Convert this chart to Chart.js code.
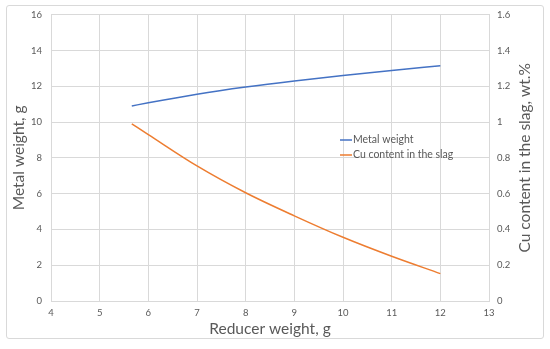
<!DOCTYPE html>
<html>
<head>
<meta charset="utf-8">
<script src="https://cdn.jsdelivr.net/npm/chart.js@4"></script>
<style>
  html, body { margin: 0; padding: 0; background: #fff; }
  #wrap { position: relative; width: 550px; height: 349px; }
  #frame { position: absolute; left: 6px; top: 5px; width: 536px; height: 332px; border: 1px solid #d9d9d9; border-radius: 3px; }
  #chart { position: absolute; left: 0; top: 0; }
</style>
</head>
<body>
<div id="wrap">
  <div id="frame"></div>
  <canvas id="chart" width="550" height="349"></canvas>
</div>
<script>
  // Reducer weight (g) sampled along the curves
  const reducerWeight = [5.66, 6, 7, 8, 9, 10, 11, 12];
  const metalWeight = [10.9, 11.08, 11.56, 11.96, 12.3, 12.6, 12.88, 13.15];
  const cuContent = [0.99, 0.93, 0.755, 0.605, 0.476, 0.356, 0.25, 0.153];

  const seriesNames = ['Metal weight', 'Cu content in the slag'];
  const seriesColors = ['#4472C4', '#ED7D31'];

  const xTitle = 'Reducer weight, g';
  const yTitle = 'Metal weight, g';
  const y1Title = 'Cu content in the slag, wt.%';

  const textColor = '#595959';
  const gridColor = '#d9d9d9';
  const fontFamily = 'Lato, "Open Sans", sans-serif';

  function toPoints(xs, ys) {
    return xs.map((x, i) => ({ x: x, y: ys[i] }));
  }

  // legend drawn inside the plot area, like the Excel original
  const innerLegend = {
    id: 'innerLegend',
    afterDraw(chart) {
      const c = chart.ctx;
      const x0 = 340, y0 = 140, rowH = 15;
      c.save();
      c.font = '10.5px ' + fontFamily;
      c.textBaseline = 'middle';
      chart.data.datasets.forEach((ds, i) => {
        const y = y0 + i * rowH;
        c.strokeStyle = ds.borderColor;
        c.lineWidth = 1.5;
        c.beginPath();
        c.moveTo(x0, y);
        c.lineTo(x0 + 12, y);
        c.stroke();
        c.fillStyle = textColor;
        c.fillText(ds.label, x0 + 13, y);
      });
      c.restore();
    }
  };

  // right axis title reads bottom-to-top in the reference
  const rightTitle = {
    id: 'rightTitle',
    afterDraw(chart) {
      const c = chart.ctx;
      const area = chart.chartArea;
      c.save();
      c.translate(525, (area.top + area.bottom) / 2);
      c.rotate(-Math.PI / 2);
      c.font = '15.5px ' + fontFamily;
      c.fillStyle = textColor;
      c.textAlign = 'center';
      c.textBaseline = 'middle';
      c.fillText(y1Title, 0, 0);
      c.restore();
    }
  };

  const ctx = document.getElementById('chart').getContext('2d');

  new Chart(ctx, {
    type: 'line',
    data: {
      datasets: [
        {
          label: seriesNames[0],
          data: toPoints(reducerWeight, metalWeight),
          borderColor: seriesColors[0],
          backgroundColor: seriesColors[0],
          borderWidth: 1.5,
          pointRadius: 0,
          tension: 0.4,
          cubicInterpolationMode: 'monotone',
          yAxisID: 'y'
        },
        {
          label: seriesNames[1],
          data: toPoints(reducerWeight, cuContent),
          borderColor: seriesColors[1],
          backgroundColor: seriesColors[1],
          borderWidth: 1.5,
          pointRadius: 0,
          tension: 0.4,
          cubicInterpolationMode: 'monotone',
          yAxisID: 'y1'
        }
      ]
    },
    options: {
      responsive: false,
      animation: false,
      layout: { padding: { top: 12, left: 0, right: 0, bottom: 0 } },
      plugins: {
        legend: { display: false },
        tooltip: { enabled: false }
      },
      scales: {
        x: {
          type: 'linear',
          min: 4,
          max: 13,
          ticks: { stepSize: 1, color: textColor, font: { family: fontFamily, size: 9.5 }, padding: 6 },
          grid: { color: gridColor, drawTicks: false },
          border: { color: gridColor },
          title: { display: true, text: xTitle, color: textColor, font: { family: fontFamily, size: 15.5 }, padding: { top: 0, bottom: 11 } },
          afterFit(scale) { scale.height = 48; }
        },
        y: {
          position: 'left',
          min: 0,
          max: 16,
          ticks: { stepSize: 2, color: textColor, font: { family: fontFamily, size: 9.5 }, padding: 9 },
          grid: { color: gridColor, drawTicks: false },
          border: { color: gridColor },
          title: { display: true, text: yTitle, color: textColor, font: { family: fontFamily, size: 15.5 }, padding: { top: 10, bottom: 0 } },
          afterFit(scale) { scale.width = 51; }
        },
        y1: {
          position: 'right',
          min: 0,
          max: 1.6,
          ticks: {
            stepSize: 0.2,
            color: textColor,
            font: { family: fontFamily, size: 9.5 },
            padding: 8,
            callback: v => String(+v.toFixed(1))
          },
          grid: { drawOnChartArea: false, drawTicks: false },
          border: { color: gridColor },
          afterFit(scale) { scale.width = 61; }
        }
      }
    },
    plugins: [innerLegend, rightTitle]
  });
</script>
</body>
</html>
